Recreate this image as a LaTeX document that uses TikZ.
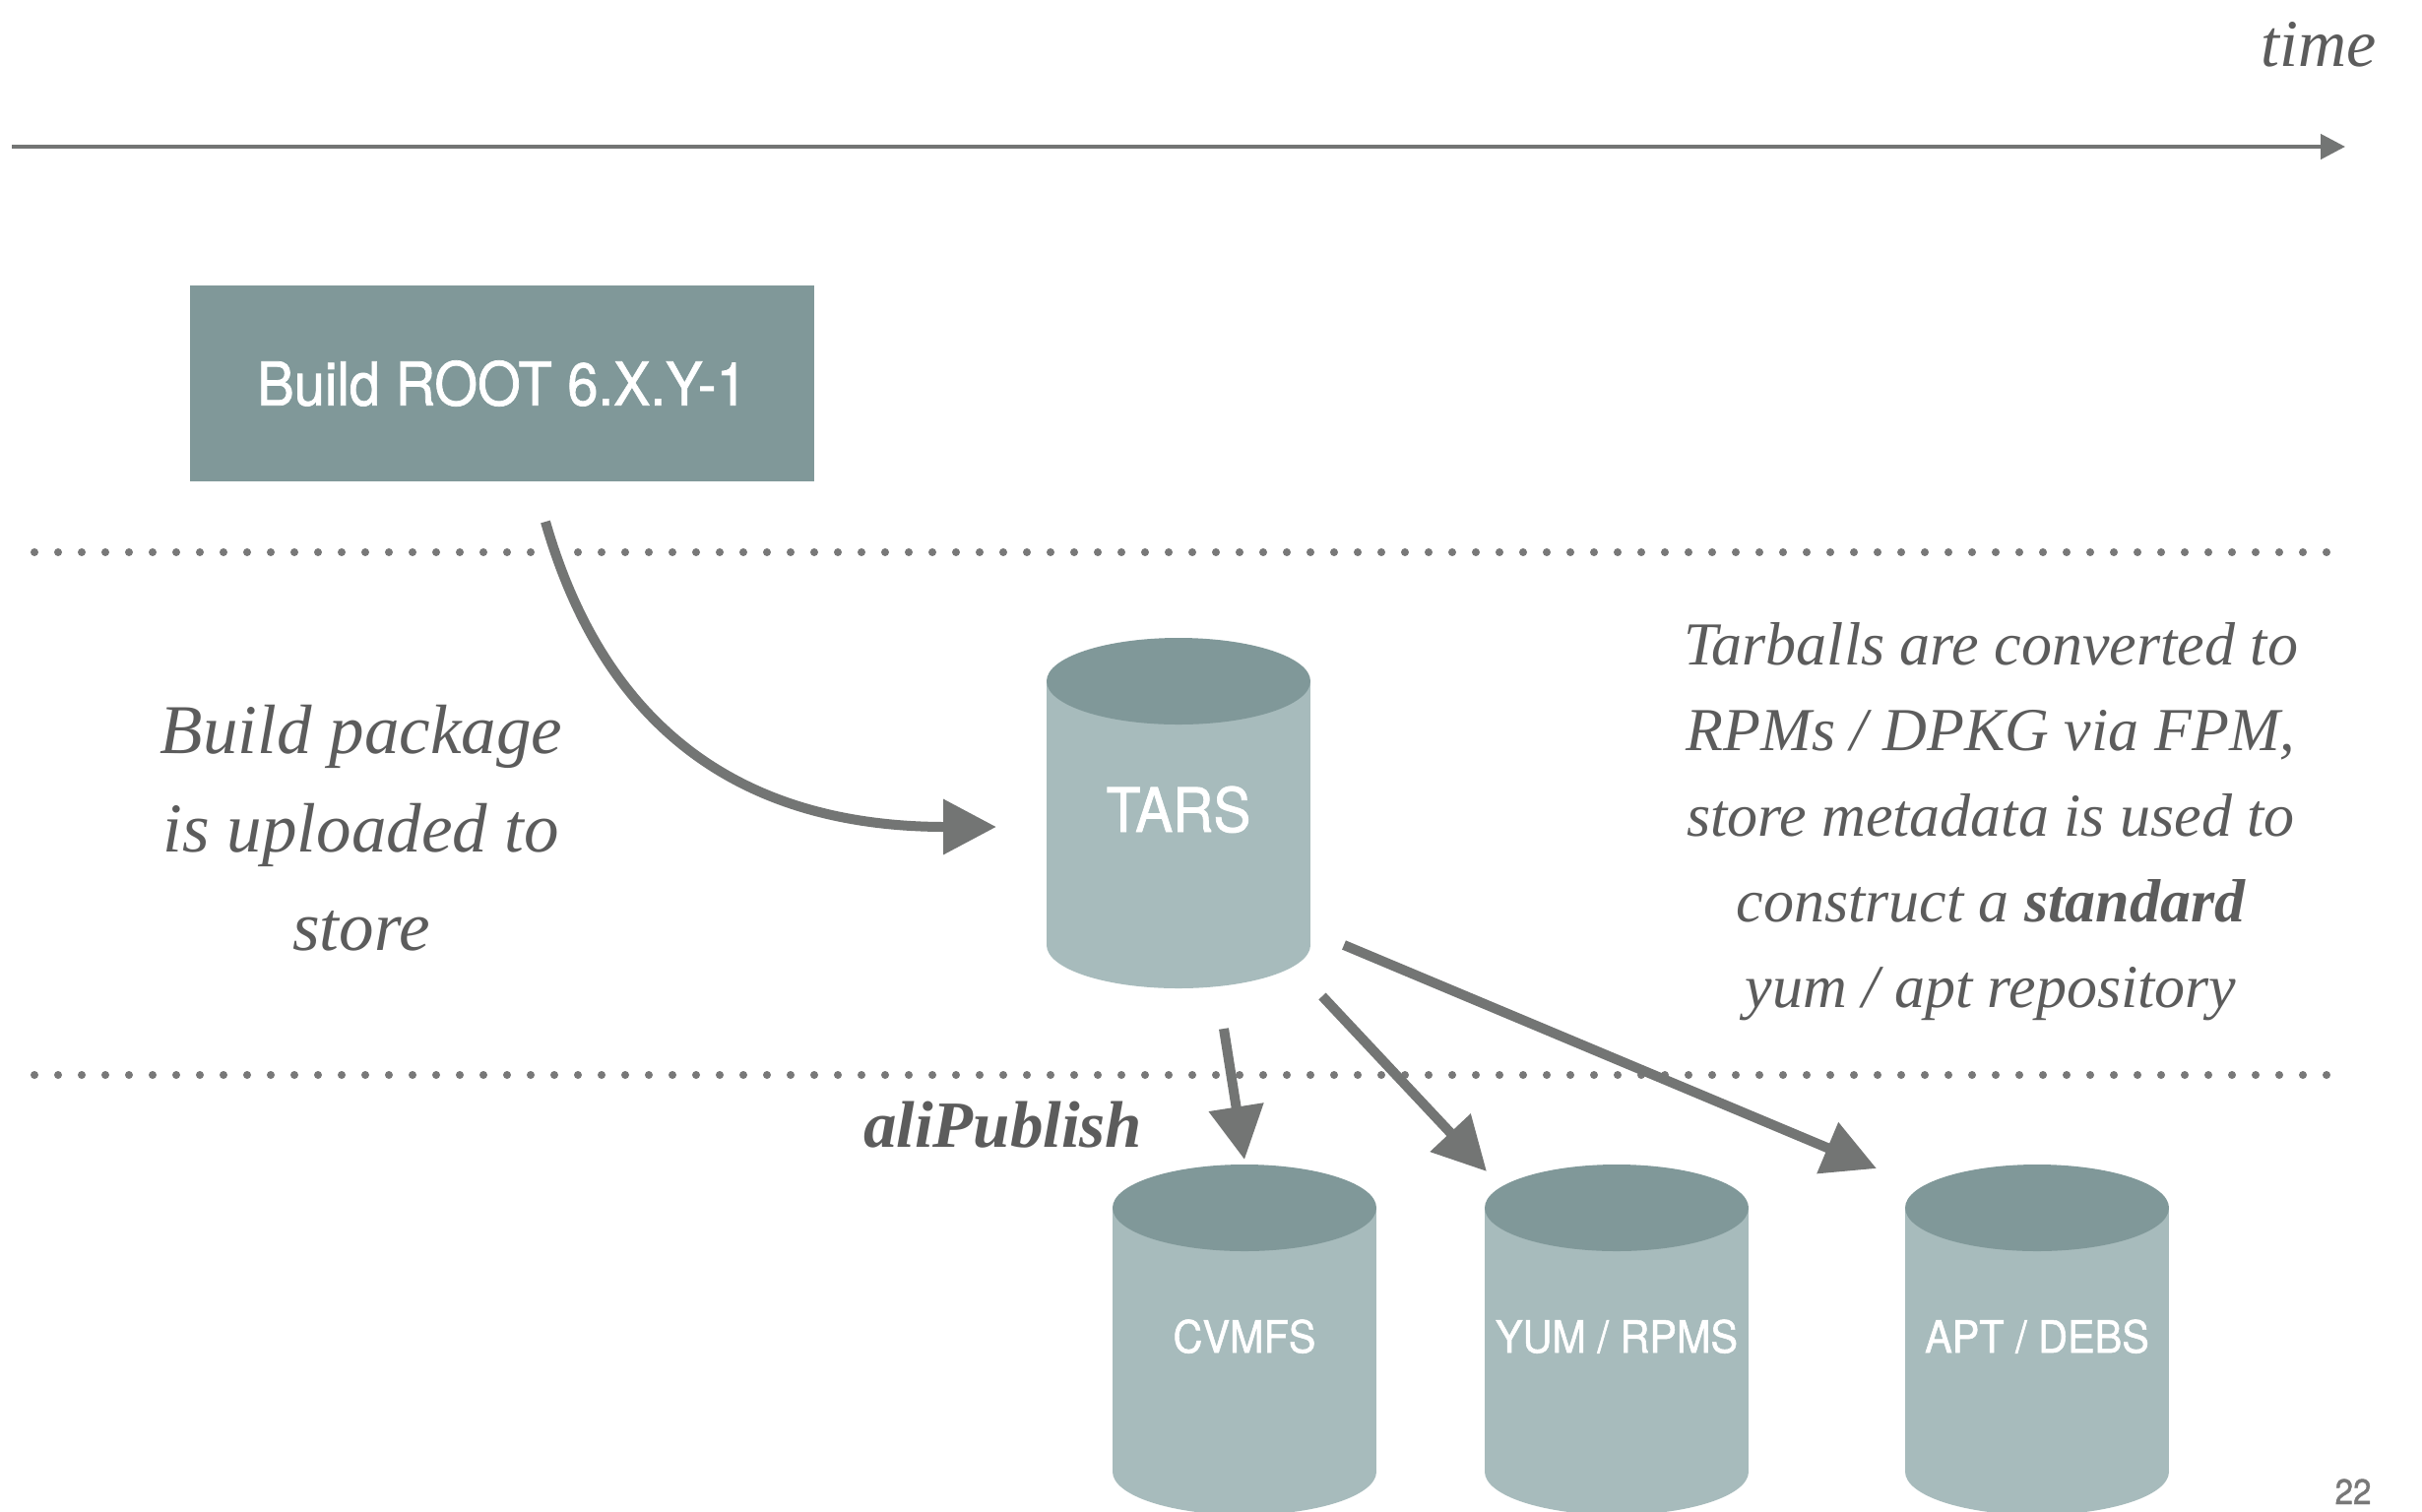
\documentclass[tikz,border=0pt]{standalone}
\usepackage{fontspec}
\setmainfont{Liberation Serif}
\newfontfamily\dinfont[FakeStretch=0.92,FakeBold=1.2]{TeX Gyre Heros}
\usetikzlibrary{arrows.meta}
\definecolor{boxdark}{HTML}{809899}
\definecolor{boxlight}{HTML}{A7BBBC}
\definecolor{arrowgray}{HTML}{737574}
\definecolor{textgray}{HTML}{5C5C5C}
\definecolor{dotgray}{HTML}{787878}
\newcommand\dbcyl[7]{%
  \fill[boxlight] (#2-134,#3) rectangle (#2+134,#4);
  \fill[boxlight] (#2,#4) ellipse[x radius=134, y radius=44];
  \fill[boxdark] (#2,#3) ellipse[x radius=134, y radius=44];
  \node[cyltext, font=\dinfont\fontsize{#7}{#7}\selectfont] (#1) at (#2,#5) {#6};
}
\begin{document}
\begin{tikzpicture}[x=1pt,y=-1pt,
  flow/.style={draw=arrowgray, line width=10pt, -{Triangle[length=54pt,width=54pt]}},
  timeline/.style={draw=arrowgray, line width=4.5pt, -{Triangle[length=25pt,width=25pt]}},
  divider/.style={draw=dotgray, line width=8pt, line cap=round, dash pattern=on 0pt off 24pt},
  cyltext/.style={text=white, inner sep=0pt, anchor=base},
  note/.style={text=textgray, inner sep=0pt, align=center},
  ]
\useasboundingbox (0,0) rectangle (2460,1535);
\fill[white] (0,0) rectangle (2460,1535);

% time axis
\coordinate (t0) at (12,149);
\coordinate (t1) at (2382,149);
\draw[timeline] (t0) -- (t1);
\node[note, anchor=base west, font=\fontsize{68}{68}\selectfont\itshape] (time) at (2296,67) {time};

% dotted dividers
\coordinate (d1a) at (35,561);
\coordinate (d1b) at (2366,561);
\coordinate (d2a) at (35,1092);
\coordinate (d2b) at (2366,1092);
\draw[divider] (d1a) -- (d1b);
\draw[divider] (d2a) -- (d2b);

% build box
\node[fill=boxdark, minimum width=634pt, minimum height=199pt, inner sep=0pt,
      text=white, font=\dinfont\fontsize{61}{61}\selectfont] (build) at (510,389.5) {Build ROOT 6.X.Y-1};

% cylinders
\dbcyl{tars}{1197}{692}{960}{845}{TARS}{62}
\dbcyl{cvmfs}{1264}{1227}{1495}{1374}{CVMFS}{45}
\dbcyl{yum}{1642}{1227}{1495}{1374}{YUM / RPMS}{45}
\dbcyl{apt}{2069}{1227}{1495}{1374}{APT / DEBS}{45}

% texts (base anchor = baseline of last line)
\node[note, anchor=base, font=\fontsize{71}{100}\selectfont\itshape] (upload) at (367,965)
  {Build package\\ is uploaded to\\ store};
\node[note, anchor=base, font=\fontsize{62}{87}\selectfont\itshape] (conv) at (2022,1023)
  {Tarballs are converted to\\ RPMs / DPKG via FPM,\\ store metadata is used to\\ construct a \textbf{standard}\\ yum / apt repository};
\node[note, anchor=base west, font=\fontsize{67}{67}\selectfont\bfseries\itshape] (alipub) at (877,1165) {aliPublish};
\node[anchor=base, text=dotgray, inner sep=0pt, font=\dinfont\fontsize{36}{36}\selectfont] (page) at (2390,1528) {22};

% connectors
\coordinate (upA) at (554,530);
\coordinate (upB) at (1012,840);
\draw[flow] (upA) .. controls (620,760) and (775,840) .. (upB);
\coordinate (cA) at (1243,1045);
\coordinate (cB) at (1264,1178);
\draw[flow] (cA) -- (cB);
\coordinate (yA) at (1343,1012);
\coordinate (yB) at (1510,1190);
\draw[flow] (yA) -- (yB);
\coordinate (aA) at (1365,960);
\coordinate (aB) at (1906,1187);
\draw[flow] (aA) -- (aB);
\end{tikzpicture}
\end{document}
